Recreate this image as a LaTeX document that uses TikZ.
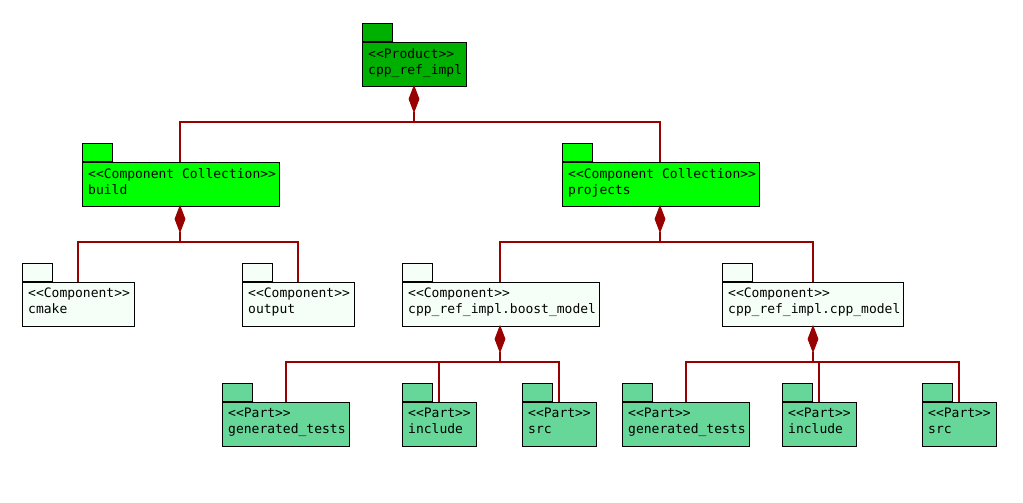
\documentclass[tikz,border=0pt]{standalone}
\usepackage{fontspec}
\newfontfamily\dmono{DejaVu Sans Mono}
\definecolor{prod}{HTML}{00B000}
\definecolor{coll}{HTML}{00FF00}
\definecolor{comp}{HTML}{F5FFF8}
\definecolor{part}{HTML}{66D699}
\definecolor{conn}{HTML}{990000}
\begin{document}
\begin{tikzpicture}[x=1pt,y=-1pt,
  box/.style={draw=black,line width=1.2pt,anchor=north west,inner sep=0pt,minimum height=44pt},
  tab/.style={draw=black,line width=1.2pt,anchor=south west,inner sep=0pt,minimum width=30pt,minimum height=18pt},
  txt/.style={anchor=north west,inner sep=0pt,align=left,font=\dmono\fontsize{13}{16}\selectfont},
  link/.style={draw=conn,line width=1.2pt},
  dia/.style={fill=conn,draw=conn,line width=0.8pt}]
\useasboundingbox (0,0) rectangle (1023,503);
\newcommand\pkg[6]{% name, x, y, width, color, text
  \node[box,fill=#5,minimum width=#4pt] (#1) at (#2,#3) {};
  \node[tab,fill=#5] (#1tab) at (#1.north west) {};
  \node[txt] (#1txt) at ([xshift=6pt,yshift=-6pt]#1.north west) {#6};}
\pkg{prd}{362}{42}{104}{prod}{<{}<Product>{}>\\cpp\_ref\_impl}
\pkg{bld}{82}{162}{197}{coll}{<{}<Component Collection>{}>\\build}
\pkg{prj}{562}{162}{197}{coll}{<{}<Component Collection>{}>\\projects}
\pkg{cmk}{22}{282}{112}{comp}{<{}<Component>{}>\\cmake}
\pkg{out}{242}{282}{112}{comp}{<{}<Component>{}>\\output}
\pkg{bst}{402}{282}{197}{comp}{<{}<Component>{}>\\cpp\_ref\_impl.boost\_model}
\pkg{cpm}{722}{282}{181}{comp}{<{}<Component>{}>\\cpp\_ref\_impl.cpp\_model}
\pkg{gt1}{222}{402}{127}{part}{<{}<Part>{}>\\generated\_tests}
\pkg{in1}{402}{402}{74}{part}{<{}<Part>{}>\\include}
\pkg{sr1}{522}{402}{74}{part}{<{}<Part>{}>\\src}
\pkg{gt2}{622}{402}{127}{part}{<{}<Part>{}>\\generated\_tests}
\pkg{in2}{782}{402}{74}{part}{<{}<Part>{}>\\include}
\pkg{sr2}{922}{402}{74}{part}{<{}<Part>{}>\\src}
% compositions: parent x, bottom y, bar y, list of child x / top y
\newcommand\comp[4]{%
  \fill[dia] (#1,#2) -- (#1+5,#2+13) -- (#1,#2+26) -- (#1-5,#2+13) -- cycle;
  \draw[link] (#1,#2+26) -- (#1,#3);
  \foreach \cx in {#4} {\draw[link] (#1,#3) -| (\cx,#3+40);}}
\comp{414}{86}{122}{180,660}
\comp{180}{206}{242}{78,298}
\comp{660}{206}{242}{500,813}
\comp{500}{326}{362}{286,439,559}
\comp{813}{326}{362}{686,819,959}
\end{tikzpicture}
\end{document}
